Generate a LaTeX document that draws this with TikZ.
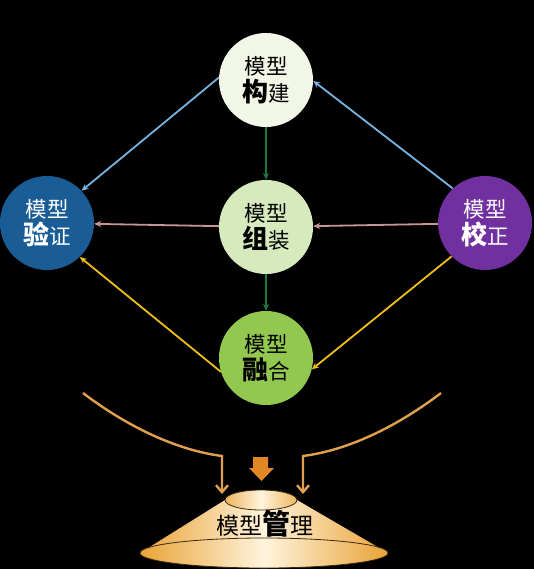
\documentclass[tikz,border=0pt]{standalone}
\usepackage{fontspec}
\newfontfamily\cjk{Noto Sans CJK SC}
\usetikzlibrary{arrows.meta,positioning}
\definecolor{buildfill}{RGB}{242,246,230}
\definecolor{assemfill}{RGB}{214,234,190}
\definecolor{fusefill}{RGB}{146,200,80}
\definecolor{verifyfill}{RGB}{26,92,150}
\definecolor{calibfill}{RGB}{112,48,160}
\definecolor{skyline}{RGB}{120,180,225}
\definecolor{stemline}{RGB}{30,120,60}
\definecolor{roseline}{RGB}{200,150,150}
\definecolor{goldline}{RGB}{240,190,20}
\definecolor{feedline}{RGB}{225,160,80}
\definecolor{dropfill}{RGB}{225,135,35}
\definecolor{coneedge}{RGB}{233,163,56}
\definecolor{conelight}{RGB}{255,244,220}
\definecolor{rimline}{RGB}{60,40,15}
\newcommand\keych[1]{{\bfseries\fontsize{26}{27}\selectfont #1}}

\begin{document}
\begin{tikzpicture}[x=1pt, y=-1pt,
  stage/.style={circle, minimum size=94pt, inner sep=0pt, align=center,
    font=\cjk\fontsize{21.5}{27}\selectfont},
  link/.style={-{Stealth[length=7pt,width=6pt]}, line width=1.8pt},
  feed/.style={-{Straight Barb[length=7pt,width=12pt]}, line width=2.4pt, draw=feedline},
  rim/.style={draw=rimline, line width=0.8pt}
]
  \fill[black] (0,0) rectangle (534,569);
  \useasboundingbox (0,0) rectangle (534,569);

  % Model stages
  \node[stage, fill=buildfill] (build) at (266,80) {模型\\\keych{构}建};
  \node[stage, fill=assemfill] (assem) at (266,227) {模型\\\keych{组}装};
  \node[stage, fill=fusefill] (fuse) at (266,358) {模型\\\keych{融}合};
  \node[stage, fill=verifyfill, text=white] (verify) at (47,223) {模型\\\keych{验}证};
  \node[stage, fill=calibfill, text=white] (calib) at (485,223) {模型\\\keych{校}正};

  % Connections between stages
  \draw[link, draw=skyline] (build.177) -- (verify.43);
  \draw[link, draw=skyline] (calib.133) -- (build.-1);
  \draw[link, draw=stemline] (build) -- (assem);
  \draw[link, draw=stemline] (assem) -- (fuse);
  \draw[link, draw=roseline] (assem) -- (verify);
  \draw[link, draw=roseline] (calib) -- (assem);
  \draw[link, draw=goldline] (fuse.197) -- (verify.-46);
  \draw[link, draw=goldline] (calib.225) -- (fuse.-14);

  % Management cone
  \shade[left color=coneedge, right color=coneedge, middle color=conelight]
    (225,500) -- (140,553) -- (388,553) -- (297,500) -- cycle;
  \shade[rim, left color=coneedge, right color=coneedge, middle color=conelight]
    (264,553) ellipse [x radius=124, y radius=15];
  \shade[rim, left color=coneedge!80, right color=coneedge!80, middle color=conelight]
    (261,500) ellipse [x radius=36, y radius=10];
  \node[font=\cjk\fontsize{23}{23}\selectfont] (mgmt) at (265,524)
    {模型{\bfseries\fontsize{28}{28}\selectfont 管}理};

  % Feeding arrows
  \coordinate (lsrc) at (83,393);
  \coordinate (lbend) at (222,456);
  \coordinate (ltip) at (222,494);
  \coordinate (rsrc) at (441,393);
  \coordinate (rbend) at (303,456);
  \coordinate (rtip) at (303,494);
  \draw[feed] (lsrc) .. controls (125,425) and (175,450) .. (lbend) -- (ltip);
  \draw[feed] (rsrc) .. controls (399,425) and (350,450) .. (rbend) -- (rtip);
  \fill[dropfill] (253,457) -- (268,457) -- (268,468) -- (274,468)
    -- (261.5,481) -- (249,468) -- (253,468) -- cycle;
\end{tikzpicture}
\end{document}
